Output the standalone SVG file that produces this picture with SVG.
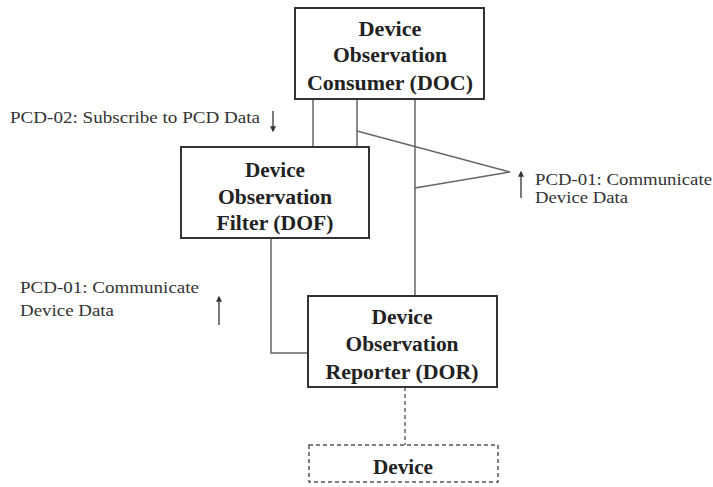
<svg xmlns="http://www.w3.org/2000/svg" width="713" height="487" viewBox="0 0 713 487">
<style>
.box{fill:#fff;stroke:#333;stroke-width:2}
.dbox{fill:#fff;stroke:#555;stroke-width:1.5;stroke-dasharray:4 3}
.bt{font-family:"Liberation Serif","Times New Roman",serif;font-weight:bold;font-size:20px;fill:#222;text-anchor:middle}
.lt{font-family:"Liberation Serif","Times New Roman",serif;font-size:17px;fill:#333}
.ln{fill:none;stroke:#666;stroke-width:1.5}
.dl{fill:none;stroke:#666;stroke-width:1.5;stroke-dasharray:4 3}
.ar{fill:none;stroke:#333;stroke-width:1.3}
</style>
<defs>
<marker id="ah" viewBox="0 0 10 10" refX="8" refY="5" markerWidth="6" markerHeight="6" orient="auto" markerUnits="userSpaceOnUse">
<path d="M0,0 L10,5 L0,10 z" fill="#333"/>
</marker>
</defs>
<rect width="713" height="487" fill="#fff"/>
<g id="connectors">
<line class="ln" x1="313" y1="99" x2="313" y2="147"/>
<line class="ln" x1="357" y1="99" x2="357" y2="147"/>
<line class="ln" x1="415" y1="99" x2="415" y2="296"/>
<polyline class="ln" points="357,131 510,172 415,188"/>
<polyline class="ln" points="271,238 271,353 308,353"/>
<line class="dl" x1="405" y1="387" x2="405" y2="445"/>
</g>
<g id="doc">
<rect class="box" x="295" y="8" width="189" height="91"/>
<text class="bt" x="390" y="36" textLength="63" lengthAdjust="spacingAndGlyphs">Device</text>
<text class="bt" x="390" y="62" textLength="114" lengthAdjust="spacingAndGlyphs">Observation</text>
<text class="bt" x="390" y="90" textLength="166" lengthAdjust="spacingAndGlyphs">Consumer (DOC)</text>
</g>
<g id="dof">
<rect class="box" x="181" y="147" width="188" height="91"/>
<text class="bt" x="275" y="177" textLength="60" lengthAdjust="spacingAndGlyphs">Device</text>
<text class="bt" x="275" y="204" textLength="114" lengthAdjust="spacingAndGlyphs">Observation</text>
<text class="bt" x="275" y="230" textLength="117" lengthAdjust="spacingAndGlyphs">Filter (DOF)</text>
</g>
<g id="dor">
<rect class="box" x="308" y="296" width="189" height="91"/>
<text class="bt" x="402" y="324" textLength="61" lengthAdjust="spacingAndGlyphs">Device</text>
<text class="bt" x="402" y="351" textLength="113" lengthAdjust="spacingAndGlyphs">Observation</text>
<text class="bt" x="402" y="379" textLength="153" lengthAdjust="spacingAndGlyphs">Reporter (DOR)</text>
</g>
<g id="device">
<rect class="dbox" x="309" y="445" width="189" height="37"/>
<text class="bt" x="403" y="474" textLength="60" lengthAdjust="spacingAndGlyphs">Device</text>
</g>
<g id="labels">
<text class="lt" x="10" y="123" textLength="250" lengthAdjust="spacingAndGlyphs">PCD-02: Subscribe to PCD Data</text>
<line class="ar" x1="273" y1="111" x2="273" y2="131" marker-end="url(#ah)"/>
<text class="lt" x="535" y="185" textLength="177" lengthAdjust="spacingAndGlyphs">PCD-01: Communicate</text>
<text class="lt" x="535" y="203" textLength="93" lengthAdjust="spacingAndGlyphs">Device Data</text>
<line class="ar" x1="521" y1="198" x2="521" y2="172" marker-end="url(#ah)"/>
<text class="lt" x="20" y="293" textLength="179" lengthAdjust="spacingAndGlyphs">PCD-01: Communicate</text>
<text class="lt" x="20" y="316" textLength="94" lengthAdjust="spacingAndGlyphs">Device Data</text>
<line class="ar" x1="219" y1="325" x2="219" y2="297" marker-end="url(#ah)"/>
</g>
</svg>
